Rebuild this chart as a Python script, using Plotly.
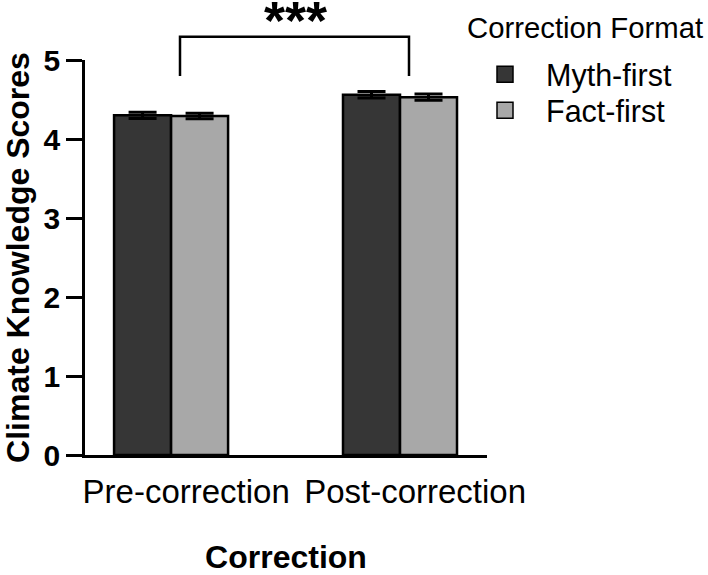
import plotly.graph_objects as go

categories = ["Pre-correction", "Post-correction"]
cat_pos = [0, 1]
myth_first = [4.30, 4.56]
myth_err = [0.04, 0.04]
fact_first = [4.29, 4.53]
fact_err = [0.035, 0.04]
series_names = ["Myth-first", "Fact-first"]
legend_title = "Correction Format"
y_ticks = [0, 1, 2, 3, 4, 5]

FONT = "Liberation Sans, Arial, sans-serif"
c_myth = "#363636"
c_fact = "#a8a8a8"
label_shift = 0.066  # category labels sit slightly right of the bar groups

fig = go.Figure()
for i, (name, vals, errs, col) in enumerate([(series_names[0], myth_first, myth_err, c_myth),
                                              (series_names[1], fact_first, fact_err, c_fact)]):
    fig.add_trace(go.Bar(
        x=cat_pos, y=vals, name=name, showlegend=False,
        marker=dict(color=col, line=dict(color="black", width=2.5)),
        error_y=dict(type="data", array=errs, visible=True, color="black",
                     thickness=3, width=14),
    ))
    # legend entries (one legend per row for exact spacing)
    fig.add_trace(go.Scatter(
        x=[None], y=[None], mode="markers", name=name,
        legend="legend" if i == 0 else "legend2",
        marker=dict(symbol="square", size=20, color=col,
                    line=dict(color="black", width=1.5)),
    ))

leg_common = dict(font=dict(size=30.5, color="black"), xanchor="left", yanchor="top",
                  itemwidth=72, bgcolor="rgba(0,0,0,0)")
fig.update_layout(
    width=708, height=575,
    margin=dict(l=85, r=221, t=60, b=120, autoexpand=False),
    plot_bgcolor="white", paper_bgcolor="white",
    barmode="group", bargap=0.502, bargroupgap=0,
    font=dict(family=FONT, color="black"),
    legend=dict(x=(464 - 85) / 402, y=(455 - 48) / 395, **leg_common),
    legend2=dict(x=(464 - 85) / 402, y=(455 - 84) / 395, **leg_common),
    xaxis=dict(
        range=[-0.376, 1.38], tickvals=[c + label_shift for c in cat_pos], ticktext=categories,
        showline=True, linecolor="black", linewidth=2.5, ticks="",
        showgrid=False, zeroline=False,
        tickfont=dict(size=33, color="black"), ticklabelstandoff=6,
        title=dict(text="<b>Correction</b>", font=dict(size=32, color="black"), standoff=38),
    ),
    yaxis=dict(
        range=[0, 5], tickvals=y_ticks,
        showline=True, linecolor="black", linewidth=2.5,
        ticks="outside", ticklen=16, tickwidth=2.5, tickcolor="black",
        showgrid=False, zeroline=False,
        tickfont=dict(size=30, color="black", weight="bold"),
        title=dict(text="<b>Climate Knowledge Scores</b>", font=dict(size=32, color="black"), standoff=10),
    ),
)

# legend title
fig.add_annotation(x=(466 - 85) / 402, y=(455 - 27) / 395, xref="paper", yref="paper",
                   text=legend_title, showarrow=False, xanchor="left", yanchor="middle",
                   font=dict(size=29.3, color="black"), borderpad=0)

# significance bracket (paper coords)
x0p, x1p = (180 - 85) / 402, (409 - 85) / 402
ytop, ybot = (455 - 36.7) / 395, (455 - 76) / 395
fig.add_shape(type="path", xref="paper", yref="paper",
              path=f"M {x0p},{ybot} L {x0p},{ytop} L {x1p},{ytop} L {x1p},{ybot}",
              line=dict(color="black", width=2.5))
fig.add_annotation(x=(295 - 85) / 402, y=(455 - 20) / 395, xref="paper", yref="paper",
                   text="<b>***</b>", showarrow=False, font=dict(size=54, color="black"),
                   yanchor="middle", borderpad=0)

fig.write_html("out.html", config={"displayModeBar": False},
               post_script="document.body.style.margin='0';document.body.style.overflow='hidden';")
